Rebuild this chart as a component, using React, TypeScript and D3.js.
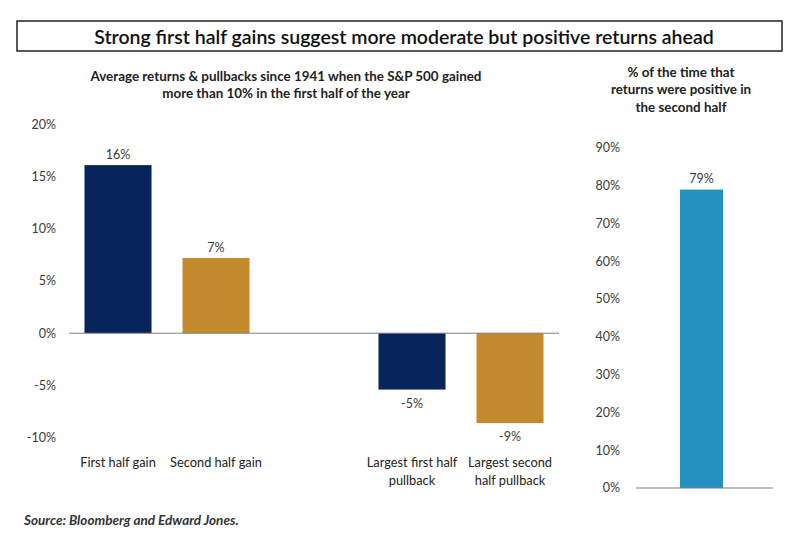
import React from 'react';
import * as d3 from 'd3';

const title = 'Strong first half gains suggest more moderate but positive returns ahead';
const leftSubtitle = [
  'Average returns & pullbacks since 1941 when the S&P 500 gained',
  'more than 10% in the first half of the year',
];
const rightSubtitle = ['%  of the time that', 'returns were positive in', 'the second half'];
const source = 'Source: Bloomberg and Edward Jones.';

// left panel: four bars in five slots (slot 2 is an empty gap)
const categories = ['First half gain', 'Second half gain', 'Largest first half pullback', 'Largest second half pullback'];
const categoryLines = [['First half gain'], ['Second half gain'], ['Largest first half', 'pullback'], ['Largest second', 'half pullback']];
const slots = [0, 1, 3, 4];
const returns = [16.1, 7.2, -5.4, -8.6];
const returnLabels = ['16%', '7%', '-5%', '-9%'];
const barColors = ['#06245a', '#c38a2e', '#06245a', '#c38a2e'];
const leftTicks = [-10, -5, 0, 5, 10, 15, 20];

// right panel
const positiveCategory = ['Second half positive'];
const positiveShare = [79];
const positiveLabels = ['79%'];
const rightTicks = [0, 10, 20, 30, 40, 50, 60, 70, 80, 90];

const FONT = 'Lato, "Open Sans", sans-serif';
const TXT = '#3a3a3a';

export default function App() {
  const xL = d3.scaleBand<number>().domain(d3.range(5)).range([69, 559]).paddingInner(0.316).paddingOuter(0.158);
  const yL = d3.scaleLinear().domain([-10, 20]).range([437.6, 124.4]);

  const xR = d3.scaleBand<string>().domain(positiveCategory).range([632, 771]).paddingInner(0).paddingOuter(1.116);
  const yR = d3.scaleLinear().domain([0, 90]).range([488, 148]);

  return (
    <div style={{ position: 'absolute', left: 0, top: 0 }}>
      <svg width={800} height={536} style={{ display: 'block', background: '#fff' }} fontFamily={FONT}>
        {/* title box */}
        <rect x={17} y={21} width={765} height={30} fill="#fff" stroke="#222" strokeWidth={1.5} />
        <text x={404} y={43.5} textAnchor="middle" fontSize={19.5} fontWeight={600} fill="#111">{title}</text>

        {/* left subtitle */}
        {leftSubtitle.map((s, i) => (
          <text key={i} x={286} y={76 + i * 17.5} dy="0.35em" textAnchor="middle" fontSize={13.4} fontWeight={700} fill="#222">{s}</text>
        ))}

        {/* right subtitle */}
        {rightSubtitle.map((s, i) => (
          <text key={i} x={681} y={72 + i * 17.5} dy="0.35em" textAnchor="middle" fontSize={13.4} fontWeight={700} fill="#222">{s}</text>
        ))}

        {/* left y ticks */}
        {leftTicks.map((t) => (
          <text key={t} x={56} y={yL(t)} dy="0.35em" textAnchor="end" fontSize={12.5} fill={TXT}>{`${t}%`}</text>
        ))}

        {/* left bars */}
        {returns.map((v, i) => {
          const x = xL(slots[i])!;
          const y0 = yL(0);
          const y1 = yL(v);
          return (
            <g key={categories[i]}>
              <rect x={x} y={Math.min(y0, y1)} width={xL.bandwidth()} height={Math.abs(y1 - y0)} fill={barColors[i]} />
              <text
                x={x + xL.bandwidth() / 2}
                y={v >= 0 ? y1 - 6 : y1 + 18}
                textAnchor="middle"
                fontSize={12.5}
                fill={TXT}
              >
                {returnLabels[i]}
              </text>
              {categoryLines[i].map((ln, j) => (
                <text key={j} x={x + xL.bandwidth() / 2} y={467 + j * 18} textAnchor="middle" fontSize={12.8} fill="#222">{ln}</text>
              ))}
            </g>
          );
        })}
        <line x1={69} x2={559} y1={yL(0)} y2={yL(0)} stroke="#7f7f7f" strokeWidth={1} />

        {/* right y ticks */}
        {rightTicks.map((t) => (
          <text key={t} x={620} y={yR(t)} dy="0.35em" textAnchor="end" fontSize={12.5} fill={TXT}>{`${t}%`}</text>
        ))}

        {/* right bar */}
        {positiveShare.map((v, i) => {
          const x = xR(positiveCategory[i])!;
          return (
            <g key={positiveCategory[i]}>
              <rect x={x} y={yR(v)} width={xR.bandwidth()} height={yR(0) - yR(v)} fill="#2590c2" />
              <text x={x + xR.bandwidth() / 2} y={yR(v) - 7} textAnchor="middle" fontSize={12.5} fill={TXT}>{positiveLabels[i]}</text>
            </g>
          );
        })}
        <line x1={636} x2={773} y1={yR(0)} y2={yR(0)} stroke="#7f7f7f" strokeWidth={1} />

        {/* source */}
        <text x={24} y={525} fontSize={13.5} fontStyle="italic" fontWeight={700} fill="#333">{source}</text>
      </svg>
    </div>
  );
}
